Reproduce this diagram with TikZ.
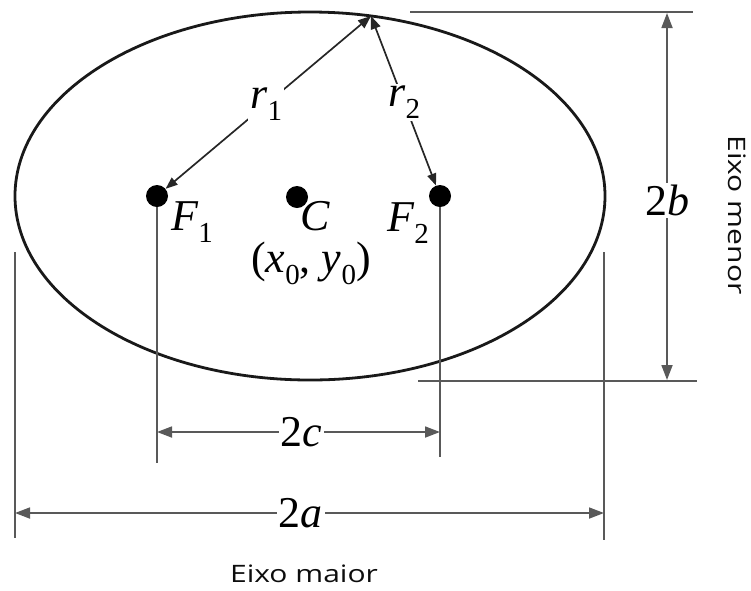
\documentclass[tikz,border=0pt]{standalone}
\usepackage{fontspec}
\setmainfont{Liberation Serif}
\newfontfamily\uisans{Open Sans}
\usetikzlibrary{arrows.meta}
\newcommand\mysub[1]{\raisebox{-0.28em}{\fontsize{29}{29}\selectfont #1}}
\newcommand\lab[2]{\textit{#1}\mysub{#2}}
\newcommand\widetext[1]{\scalebox{1.25}[1]{#1}}
\begin{document}
\begin{tikzpicture}[x=1pt,y=-1pt,
  curve/.style={line width=2.8pt,black!90},
  dim/.style={line width=1.7pt,black!65},
  dimarrow/.style={dim,{Triangle[length=15pt,width=11pt]}-{Triangle[length=15pt,width=11pt]}},
  radarrow/.style={line width=1.7pt,black!85,{Triangle[length=12pt,width=9pt]}-{Triangle[length=13pt,width=10pt]}},
  dot/.style={circle,fill=black,inner sep=0pt,minimum size=22pt},
  mlabel/.style={font=\fontsize{44}{48}\selectfont,text=black,inner sep=0pt},
  onlabel/.style={mlabel,fill=white,inner sep=2pt},
  axislabel/.style={font=\uisans\fontsize{24}{28}\selectfont,text=black!95,inner sep=1pt}
]
\useasboundingbox (0,0) rectangle (751,590);
% ellipse
\draw[curve] (310,196) ellipse [x radius=295pt, y radius=184pt];
% points
\node[dot] (F1) at (157,196) {};
\node[dot] (C) at (297,197) {};
\node[dot] (F2) at (440,196) {};
\coordinate (P) at (371,16);
% radii
\draw[radarrow] (F1) -- node[onlabel,pos=0.49]{\lab{r}{1}} (P);
\draw[radarrow] (F2) -- node[onlabel,pos=0.49]{\lab{r}{2}} (P);
% point labels
\node[mlabel] (F1l) at (192,222) {\lab{F}{1}};
\node[mlabel,text height=28pt,text depth=0pt] (Cl) at (315,216) {\textit{C}};
\node[mlabel] (F2l) at (408,223) {\lab{F}{2}};
\node[mlabel,text height=26pt,text depth=10pt,anchor=base] (X0) at (311,272) {(\lab{x}{0}, \lab{y}{0})};
% extension lines
\coordinate (F1b) at (157,463);
\coordinate (F2b) at (440,457);
\coordinate (Lt) at (15,252);
\coordinate (Lb) at (15,538);
\coordinate (Rt) at (604,252);
\coordinate (Rb) at (604,540);
\draw[dim] (F1) -- (F1b);
\draw[dim] (F2) -- (F2b);
\draw[dim] (Lt) -- (Lb);
\draw[dim] (Rt) -- (Rb);
\coordinate (Tl) at (410,12);
\coordinate (Tr) at (693,12);
\coordinate (Bl) at (418,381);
\coordinate (Br) at (697,381);
\draw[dim] (Tl) -- (Tr);
\draw[dim] (Bl) -- (Br);
% dimension arrows
\coordinate (c1) at (157,432);
\coordinate (c2) at (440,432);
\draw[dimarrow] (c1) -- node[onlabel,pos=0.51]{2\textit{c}} (c2);
\coordinate (a1) at (15,513);
\coordinate (a2) at (604,513);
\draw[dimarrow] (a1) -- node[onlabel,pos=0.485]{2\textit{a}} (a2);
\coordinate (b1) at (667,13);
\coordinate (b2) at (667,380);
\draw[dimarrow] (b1) -- node[onlabel,pos=0.51]{2\textit{b}} (b2);
% axis names
\node[axislabel] (maior) at (304,574) {\widetext{Eixo maior}};
\node[axislabel,rotate=-90] (menor) at (737,215) {\widetext{Eixo menor}};
\end{tikzpicture}
\end{document}
